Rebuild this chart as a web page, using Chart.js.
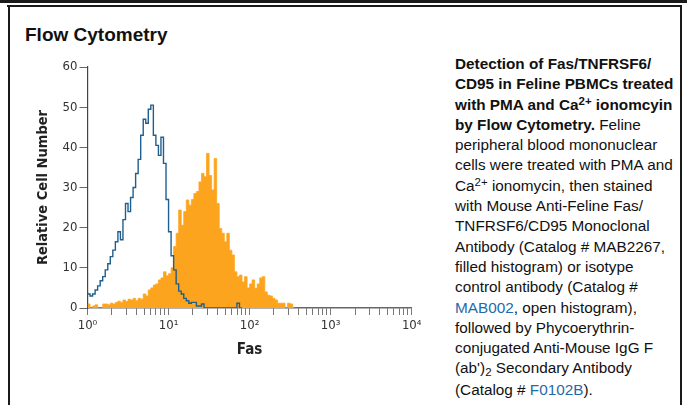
<!DOCTYPE html>
<html>
<head>
<meta charset="utf-8">
<script src="https://cdn.jsdelivr.net/npm/chart.js@4.4.1/dist/chart.umd.min.js"></script>
<style>
  html, body { margin: 0; padding: 0; background: #fff; }
  body { width: 687px; height: 405px; position: relative; overflow: hidden; font-family: "Liberation Sans", Arial, sans-serif; color: #111; }
  .rule { position: absolute; background: #1a1a1a; }
  #title { position: absolute; left: 25px; top: 25px; font-size: 19px; line-height: 19px; font-weight: bold; white-space: nowrap; }
  #chartBox { position: absolute; left: 0; top: 0; width: 440px; height: 380px; }
  #caption { position: absolute; left: 455px; top: 54px; font-size: 15.3px; line-height: 20.3px; white-space: nowrap; }
  #caption div { height: 20.3px; }
  #caption sup { font-size: 0.75em; line-height: 0; vertical-align: 0.4em; }
  #caption sub { font-size: 0.75em; line-height: 0; vertical-align: -0.3em; }
  #caption a { color: #1f6aa8; text-decoration: none; }
</style>
</head>
<body>
<div class="rule" style="left:0;top:0;width:687px;height:3px;"></div>
<div class="rule" style="left:7px;top:5px;width:675px;height:2px;"></div>
<div class="rule" style="left:8px;top:5px;width:2px;height:400px;"></div>
<div class="rule" style="left:680px;top:5px;width:2px;height:400px;"></div>

<div id="title">Flow Cytometry</div>

<div id="chartBox"><canvas id="flowChart" width="440" height="380"></canvas></div>

<div id="caption">
  <div><b>Detection of Fas/TNFRSF6/</b></div>
  <div><b>CD95 in Feline PBMCs treated</b></div>
  <div><b>with PMA and Ca<sup>2+</sup> ionomcyin</b></div>
  <div><b>by Flow Cytometry.</b> Feline</div>
  <div>peripheral blood mononuclear</div>
  <div>cells were treated with PMA and</div>
  <div>Ca<sup>2+</sup> ionomycin, then stained</div>
  <div>with Mouse Anti-Feline Fas/</div>
  <div>TNFRSF6/CD95 Monoclonal</div>
  <div>Antibody (Catalog # MAB2267,</div>
  <div>filled histogram) or isotype</div>
  <div>control antibody (Catalog #</div>
  <div><a>MAB002</a>, open histogram),</div>
  <div>followed by Phycoerythrin-</div>
  <div>conjugated Anti-Mouse IgG F</div>
  <div>(ab')<sub>2</sub> Secondary Antibody</div>
  <div style="margin-top:1.5px;">(Catalog # <a>F0102B</a>).</div>
</div>

<script>
// histogram bins: 32 per decade, bin 0 starts at 10^0
const binsPerDecade = 32;
const decades = 4;
const xTickLabels = ["10\u2070", "10\u00b9", "10\u00b2", "10\u00b3", "10\u2074"];
const yTickValues = [0, 10, 20, 30, 40, 50, 60];

// isotype control (MAB002), open histogram
const isotypeCounts = [
  4.0, 3.5, 3.0, 3.5, 4.5, 5.5, 6.8, 7.8, 9.5, 11.0,
  12.8, 14.4, 16.5, 19.0, 17.0, 22.0, 26.0, 24.0, 27.5, 30.0,
  33.5, 37.0, 43.0, 47.0, 46.0, 49.5, 50.5, 43.0, 40.5, 38.0,
  42.5, 36.0, 27.0, 19.0, 13.0, 9.5, 6.0, 4.2, 3.5, 2.4,
  1.8, 1.2, 1.4, 1.4, 0.5, 0.5, 1.0, 0, 0, 0,
  0, 0, 0, 0, 0, 0, 0, 0, 0, 0,
  1.2
];

// anti-Fas (MAB2267), filled histogram
const fasCounts = [
  1.0, 1.0, 0, 0.5, 0.8, 0, 0, 1.0, 1.0, 0.8,
  1.2, 1.0, 1.4, 1.7, 1.4, 2.0, 1.6, 2.2, 2.0, 2.4,
  1.8, 2.4, 2.2, 3.5, 3.0, 4.5, 5.0, 5.7, 6.0, 7.0,
  7.5, 9.0, 8.0, 8.5, 10.0, 15.3, 18.6, 24.4, 20.6, 24.0,
  26.9, 25.6, 27.0, 28.5, 29.0, 31.4, 33.5, 32.7, 38.5, 33.0,
  29.4, 37.2, 26.0, 19.8, 18.6, 16.5, 18.6, 14.4, 13.2, 9.0,
  7.8, 8.2, 6.5, 7.8, 5.0, 6.0, 7.0, 4.9, 6.0, 7.5,
  7.8, 4.0, 3.2, 3.0, 2.4, 2.0, 1.2, 1.2, 1.2, 0,
  1.2, 1.0
];

function toSteps(counts) {
  const pts = counts.map((v, i) => ({ x: i, y: v }));
  pts.push({ x: counts.length, y: 0 });
  return pts;
}

const axisFont = { family: "'Liberation Sans Narrow', 'DejaVu Sans Condensed', sans-serif", size: 13 };
const titleFont = { family: "'Liberation Sans Narrow', 'DejaVu Sans Condensed', sans-serif", size: 15, weight: "bold" };

new Chart(document.getElementById("flowChart"), {
  type: "line",
  data: {
    datasets: [
      {
        label: "Isotype control",
        data: toSteps(isotypeCounts),
        stepped: "after",
        borderColor: "#1f5f8e",
        borderWidth: 1.4,
        pointRadius: 0,
        fill: false
      },
      {
        label: "Fas",
        data: toSteps(fasCounts),
        stepped: "after",
        borderColor: "#fda41e",
        borderWidth: 0.8,
        backgroundColor: "#fda41e",
        pointRadius: 0,
        fill: "origin"
      }
    ]
  },
  options: {
    responsive: false,
    animation: false,
    devicePixelRatio: 1,
    layout: { padding: { left: 0, top: 67, right: 28.3, bottom: 0 } },
    plugins: { legend: { display: false }, tooltip: { enabled: false } },
    scales: {
      x: {
        type: "linear",
        min: 0,
        max: decades * binsPerDecade,
        afterBuildTicks: (scale) => {
          const t = [];
          for (let d = 0; d < decades; d++) {
            for (let k = 1; k < 10; k++) t.push({ value: (d + Math.log10(k)) * binsPerDecade });
          }
          t.push({ value: decades * binsPerDecade });
          scale.ticks = t;
        },
        afterFit: (scale) => { scale.height = 72; },
        ticks: {
          autoSkip: false,
          maxRotation: 0,
          color: "#333",
          padding: 3,
          font: axisFont,
          callback: (v) => {
            const d = v / binsPerDecade;
            return Number.isInteger(d) ? xTickLabels[d] : "";
          }
        },
        grid: { drawOnChartArea: false, tickLength: 7, color: "#777" },
        border: { color: "#666", width: 1.4 },
        title: { display: true, text: "Fas", color: "#222", font: titleFont, padding: { top: 0, bottom: 21 } }
      },
      y: {
        min: 0,
        max: 60,
        afterBuildTicks: (scale) => { scale.ticks = yTickValues.map(v => ({ value: v })); },
        afterFit: (scale) => { scale.width = 87.5; },
        ticks: { color: "#333", padding: 2, font: axisFont },
        grid: { drawOnChartArea: false, tickLength: 8, color: "#666" },
        border: { color: "#444", width: 1.2 },
        title: { display: true, text: "Relative Cell Number", color: "#222", font: { ...titleFont, size: 14.5 }, padding: { top: 34.3, bottom: 0 } }
      }
    }
  }
});
</script>
</body>
</html>
